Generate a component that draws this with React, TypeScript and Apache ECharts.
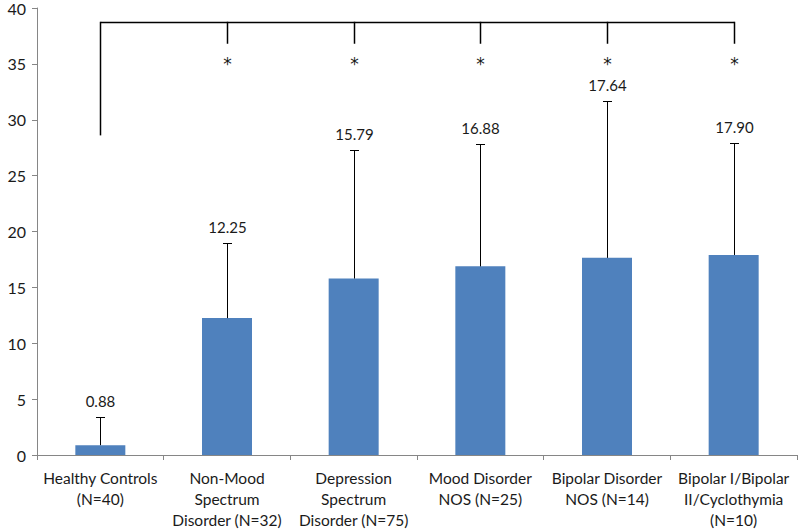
import React, { useEffect, useRef } from "react";
import * as echarts from "echarts";

const categories = [
  "Healthy Controls\n(N=40)",
  "Non-Mood\nSpectrum\nDisorder (N=32)",
  "Depression\nSpectrum\nDisorder (N=75)",
  "Mood Disorder\nNOS (N=25)",
  "Bipolar Disorder\nNOS (N=14)",
  "Bipolar I/Bipolar\nII/Cyclothymia\n(N=10)",
];
const means = [0.88, 12.25, 15.79, 16.88, 17.64, 17.9];
const errorTops = [3.38, 19.0, 27.3, 27.8, 31.7, 27.9];
const valueLabels = ["0.88", "12.25", "15.79", "16.88", "17.64", "17.90"];
const sigMarks = ["", "*", "*", "*", "*", "*"];
const bracketTop = 38.7;
const controlDrop = 28.6;
const groupDrop = 36.8;
const starLevel = 35.3;
const yTicks = { min: 0, max: 40, interval: 5 };

const FONT = "Lato, 'Open Sans', sans-serif";

export default function App() {
  const ref = useRef<HTMLDivElement>(null);
  useEffect(() => {
    document.body.style.margin = "0";
    const chart = echarts.init(ref.current!, null, { renderer: "svg" });
    const errData = means.map((m, i) => [i, m, errorTops[i]]);
    const bracketData = sigMarks.map((s, i) => [i, bracketTop, i === 0 ? controlDrop : groupDrop, starLevel]);
    chart.setOption({
      animation: false,
      grid: { left: 37, right: 3, top: 7, bottom: 74 },
      xAxis: {
        type: "category",
        data: categories,
        axisLine: { lineStyle: { color: "#868686", width: 1 } },
        axisTick: { show: true, length: 5, lineStyle: { color: "#868686" } },
        axisLabel: {
          interval: 0,
          color: "#1a1a1a",
          fontFamily: FONT,
          fontSize: 15.5,
          lineHeight: 21,
          margin: 12,
        },
      },
      yAxis: {
        type: "value",
        min: yTicks.min,
        max: yTicks.max,
        interval: yTicks.interval,
        axisLine: { show: true, lineStyle: { color: "#868686", width: 1 } },
        axisTick: { show: true, length: 5, lineStyle: { color: "#868686" } },
        splitLine: { show: false },
        axisLabel: { color: "#1a1a1a", fontFamily: FONT, fontSize: 16, margin: 11 },
      },
      series: [
        {
          type: "bar",
          data: means,
          barWidth: 50,
          itemStyle: { color: "#4F81BD" },
          z: 2,
        },
        {
          type: "custom",
          data: errData,
          z: 3,
          encode: { x: 0, y: [1, 2] },
          renderItem: (params: any, api: any) => {
            const i = api.value(0);
            const base = api.coord([i, api.value(1)]);
            const top = api.coord([i, api.value(2)]);
            const x = Math.round(base[0]) + 0.5;
            const ty = Math.round(top[1]) + 0.5;
            return {
              type: "group",
              children: [
                { type: "line", shape: { x1: x, y1: base[1], x2: x, y2: ty }, style: { stroke: "#000", lineWidth: 1 } },
                { type: "line", shape: { x1: x - 4.5, y1: ty, x2: x + 4.5, y2: ty }, style: { stroke: "#000", lineWidth: 1 } },
                {
                  type: "text",
                  style: {
                    x: x,
                    y: ty - 17,
                    text: valueLabels[params.dataIndex],
                    align: "center",
                    verticalAlign: "middle",
                    fill: "#1a1a1a",
                    font: `15px ${FONT}`,
                  },
                },
              ],
            };
          },
        },
        {
          type: "custom",
          data: bracketData,
          z: 4,
          encode: { x: 0, y: [1, 2, 3] },
          renderItem: (params: any, api: any) => {
            const i = api.value(0);
            const topP = api.coord([i, api.value(1)]);
            const dropP = api.coord([i, api.value(2)]);
            const starP = api.coord([i, api.value(3)]);
            const x = Math.round(topP[0]) + 0.5;
            const children: any[] = [
              { type: "line", shape: { x1: x, y1: topP[1] - 0.75, x2: x, y2: dropP[1] }, style: { stroke: "#000", lineWidth: 1.5 } },
            ];
            if (i === 0) {
              const endP = api.coord([categories.length - 1, api.value(1)]);
              children.push({
                type: "line",
                shape: { x1: x, y1: topP[1], x2: Math.round(endP[0]) + 0.5, y2: topP[1] },
                style: { stroke: "#000", lineWidth: 1.5 },
              });
            }
            const mark = sigMarks[params.dataIndex];
            if (mark) {
              children.push({
                type: "text",
                style: {
                  x: x,
                  y: starP[1] + 3,
                  text: mark,
                  align: "center",
                  verticalAlign: "middle",
                  fill: "#1a1a1a",
                  font: `17px 'DejaVu Sans', sans-serif`,
                },
              });
            }
            return { type: "group", children };
          },
        },
      ],
    });
    return () => chart.dispose();
  }, []);
  return <div ref={ref} style={{ width: 800, height: 530 }} />;
}
